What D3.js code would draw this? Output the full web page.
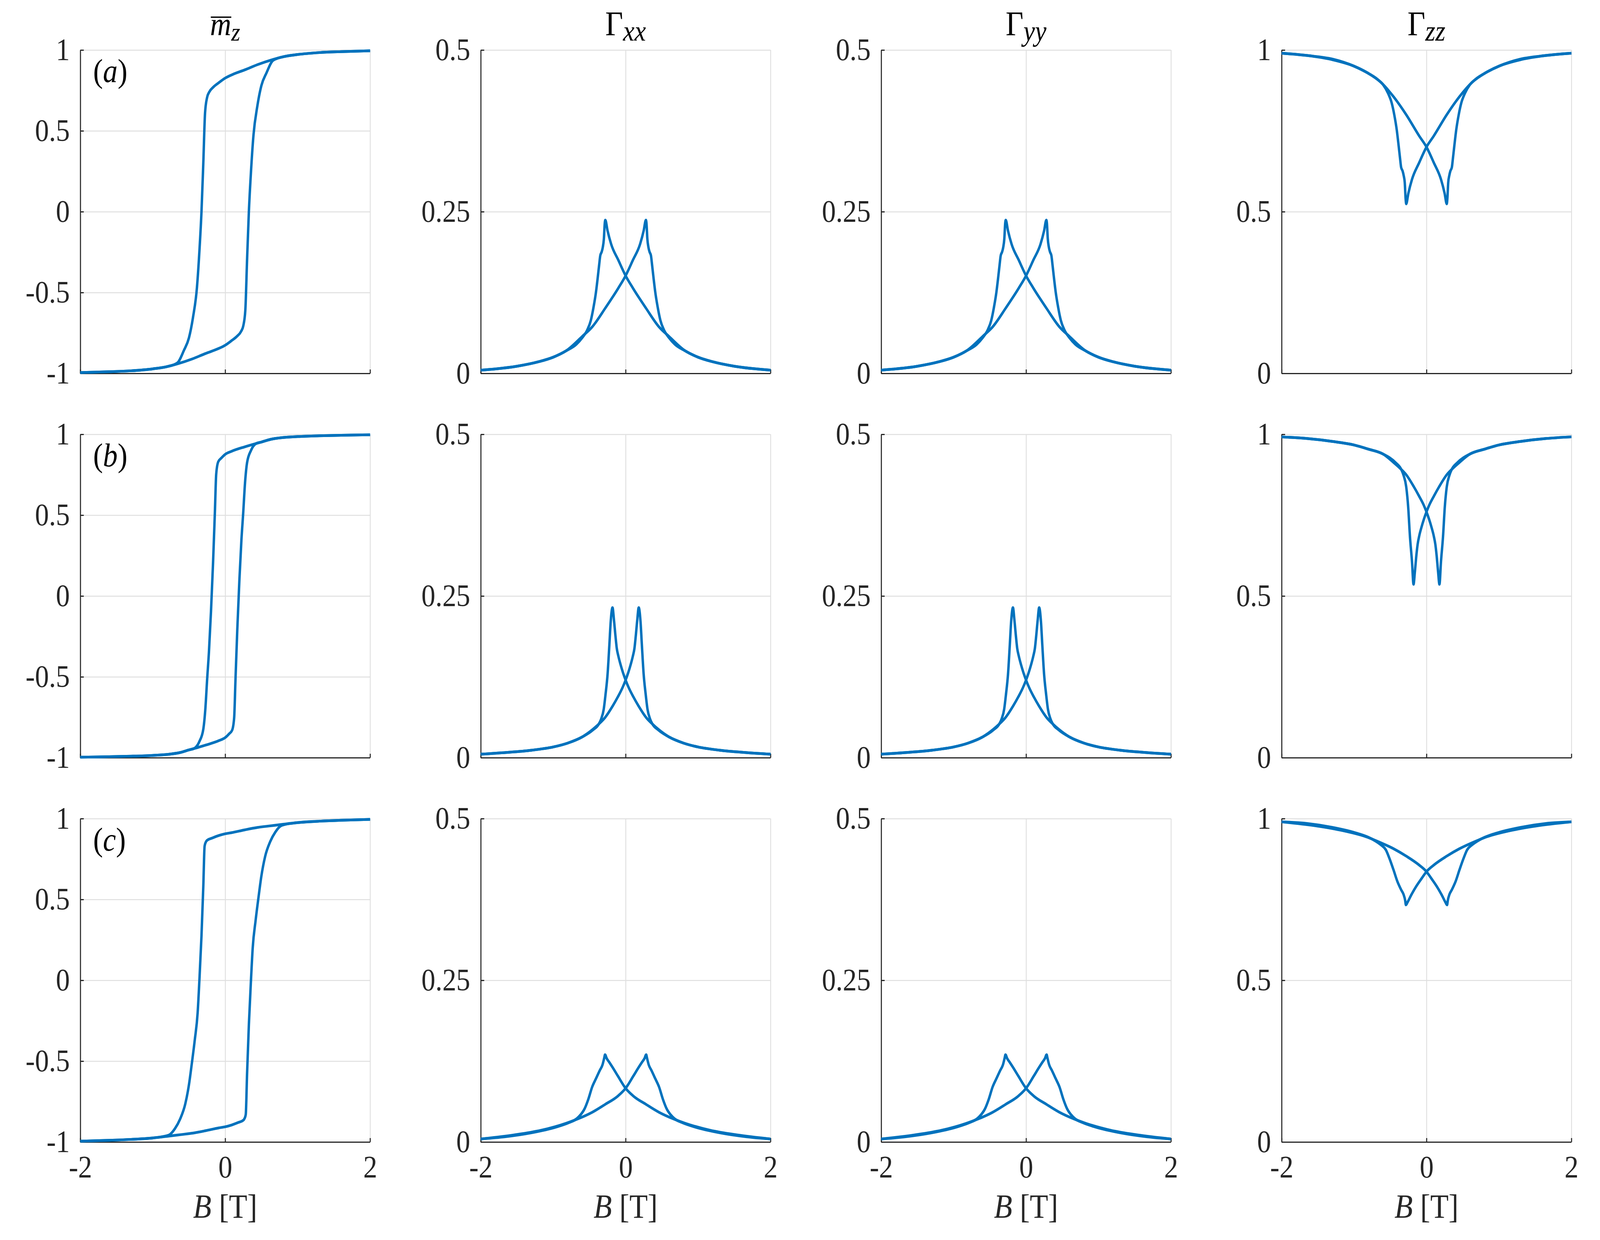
<!DOCTYPE html>
<html>
<head>
<meta charset="utf-8">
<script src="https://cdn.jsdelivr.net/npm/d3@7"></script>
<style>
  html, body { margin: 0; width: 100%; height: 100%; overflow: hidden; background: #ffffff; }
  #chart { width: 100%; height: 100%; }
  svg { display: block; font-family: "Liberation Serif", "DejaVu Serif", serif; }
</style>
</head>
<body>
<div id="chart"></div>
<script>

// ---- data: [B (T), value] pairs ----
// "down" = field swept from +2 to -2, "up" = field swept from -2 to +2

// row (a)
var mzA_down = [[-2,-0.995],[-1.6,-0.99],[-1.3,-0.984],[-1.0,-0.972],[-0.8,-0.958],[-0.66,-0.935],[-0.57,-0.858],[-0.5,-0.78],[-0.445,-0.656],[-0.39,-0.47],[-0.355,-0.238],[-0.327,0],[-0.302,0.3],[-0.278,0.61],[-0.25,0.706],[-0.22,0.74],[-0.16,0.772],[-0.09,0.797],[0,0.826],[0.1,0.848],[0.27,0.877],[0.45,0.91],[0.65,0.94],[0.8,0.958],[1.0,0.972],[1.3,0.984],[1.6,0.99],[2,0.995]];
var mzA_up = [[-2,-0.995],[-1.6,-0.99],[-1.3,-0.984],[-1.0,-0.972],[-0.8,-0.958],[-0.65,-0.94],[-0.45,-0.91],[-0.27,-0.877],[-0.1,-0.848],[0,-0.826],[0.09,-0.797],[0.16,-0.772],[0.22,-0.74],[0.25,-0.706],[0.278,-0.61],[0.302,-0.3],[0.327,0],[0.355,0.238],[0.39,0.47],[0.445,0.656],[0.5,0.78],[0.57,0.858],[0.66,0.935],[0.8,0.958],[1.0,0.972],[1.3,0.984],[1.6,0.99],[2,0.995]];
var gxxA_down = [[-2,0.005],[-1.5,0.011],[-1.2,0.018],[-1.0,0.025],[-0.82,0.035],[-0.68,0.045],[-0.6,0.055],[-0.53,0.067],[-0.48,0.082],[-0.445,0.101],[-0.41,0.125],[-0.385,0.148],[-0.365,0.168],[-0.35,0.182],[-0.33,0.188],[-0.315,0.195],[-0.3,0.208],[-0.288,0.232],[-0.28,0.237],[-0.25,0.221],[-0.2,0.2],[-0.1,0.175],[0,0.151],[0.1,0.132],[0.28,0.101],[0.46,0.072],[0.6,0.057],[0.82,0.035],[1.0,0.025],[1.2,0.018],[1.5,0.011],[2,0.005]];
var gxxA_up = [[-2,0.005],[-1.5,0.011],[-1.2,0.018],[-1.0,0.025],[-0.82,0.035],[-0.6,0.057],[-0.46,0.072],[-0.28,0.101],[-0.1,0.132],[0,0.151],[0.1,0.175],[0.2,0.2],[0.25,0.221],[0.28,0.237],[0.288,0.232],[0.3,0.208],[0.315,0.195],[0.33,0.188],[0.35,0.182],[0.365,0.168],[0.385,0.148],[0.41,0.125],[0.445,0.101],[0.48,0.082],[0.53,0.067],[0.6,0.055],[0.68,0.045],[0.82,0.035],[1.0,0.025],[1.2,0.018],[1.5,0.011],[2,0.005]];
var gzzA_down = [[-2,0.99],[-1.65,0.983],[-1.3,0.972],[-1.0,0.95],[-0.82,0.93],[-0.68,0.91],[-0.6,0.893],[-0.53,0.866],[-0.48,0.836],[-0.445,0.8],[-0.41,0.752],[-0.385,0.705],[-0.365,0.665],[-0.35,0.637],[-0.33,0.626],[-0.315,0.612],[-0.3,0.59],[-0.288,0.54],[-0.28,0.524],[-0.25,0.557],[-0.2,0.6],[-0.1,0.652],[0,0.7],[0.1,0.734],[0.28,0.8],[0.46,0.857],[0.63,0.9],[0.82,0.93],[1.0,0.95],[1.3,0.97],[1.65,0.983],[2,0.99]];
var gzzA_up = [[-2,0.99],[-1.65,0.983],[-1.3,0.97],[-1.0,0.95],[-0.82,0.93],[-0.63,0.9],[-0.46,0.857],[-0.28,0.8],[-0.1,0.734],[0,0.7],[0.1,0.652],[0.2,0.6],[0.25,0.557],[0.28,0.524],[0.288,0.54],[0.3,0.59],[0.315,0.612],[0.33,0.626],[0.35,0.637],[0.365,0.665],[0.385,0.705],[0.41,0.752],[0.445,0.8],[0.48,0.836],[0.53,0.866],[0.6,0.893],[0.68,0.91],[0.82,0.93],[1.0,0.95],[1.3,0.972],[1.65,0.983],[2,0.99]];

// row (b)
var mzB_down = [[-2,-0.997],[-1.6,-0.994],[-1.3,-0.991],[-1.0,-0.986],[-0.8,-0.98],[-0.62,-0.968],[-0.5,-0.952],[-0.427,-0.943],[-0.356,-0.9],[-0.302,-0.824],[-0.274,-0.7],[-0.249,-0.515],[-0.224,-0.345],[-0.196,-0.097],[-0.167,0.21],[-0.142,0.52],[-0.124,0.753],[-0.096,0.83],[-0.053,0.853],[0,0.876],[0.089,0.895],[0.267,0.922],[0.427,0.943],[0.5,0.952],[0.62,0.968],[0.8,0.98],[1.0,0.986],[1.3,0.991],[1.6,0.994],[2,0.997]];
var mzB_up = [[-2,-0.997],[-1.6,-0.994],[-1.3,-0.991],[-1.0,-0.986],[-0.8,-0.98],[-0.62,-0.968],[-0.5,-0.952],[-0.427,-0.943],[-0.267,-0.922],[-0.089,-0.895],[0,-0.876],[0.053,-0.853],[0.096,-0.83],[0.124,-0.753],[0.142,-0.52],[0.167,-0.21],[0.196,0.097],[0.224,0.345],[0.249,0.515],[0.274,0.7],[0.302,0.824],[0.356,0.9],[0.427,0.943],[0.5,0.952],[0.62,0.968],[0.8,0.98],[1.0,0.986],[1.3,0.991],[1.6,0.994],[2,0.997]];
var gxxB_down = [[-2,0.0054],[-1.65,0.008],[-1.3,0.0115],[-1.0,0.0165],[-0.8,0.0225],[-0.6,0.032],[-0.45,0.043],[-0.37,0.052],[-0.337,0.06],[-0.302,0.075],[-0.277,0.098],[-0.249,0.129],[-0.224,0.175],[-0.206,0.21],[-0.181,0.232],[-0.16,0.212],[-0.14,0.188],[-0.122,0.169],[-0.1,0.157],[-0.07,0.144],[-0.035,0.131],[0,0.12],[0.04,0.109],[0.107,0.094],[0.178,0.08],[0.284,0.062],[0.37,0.052],[0.45,0.044],[0.6,0.032],[0.8,0.0225],[1.0,0.0165],[1.3,0.0115],[1.65,0.008],[2,0.0054]];
var gxxB_up = [[-2,0.0054],[-1.65,0.008],[-1.3,0.0115],[-1.0,0.0165],[-0.8,0.0225],[-0.6,0.032],[-0.45,0.044],[-0.37,0.052],[-0.284,0.062],[-0.178,0.08],[-0.107,0.094],[-0.04,0.109],[0,0.12],[0.035,0.131],[0.07,0.144],[0.1,0.157],[0.122,0.169],[0.14,0.188],[0.16,0.212],[0.181,0.232],[0.206,0.21],[0.224,0.175],[0.249,0.129],[0.277,0.098],[0.302,0.075],[0.337,0.06],[0.37,0.052],[0.45,0.043],[0.6,0.032],[0.8,0.0225],[1.0,0.0165],[1.3,0.0115],[1.65,0.008],[2,0.0054]];
var gzzB_down = [[-2,0.992],[-1.65,0.987],[-1.3,0.978],[-1.0,0.967],[-0.8,0.954],[-0.6,0.939],[-0.42,0.911],[-0.35,0.892],[-0.316,0.873],[-0.28,0.838],[-0.253,0.776],[-0.228,0.683],[-0.2,0.606],[-0.179,0.536],[-0.16,0.575],[-0.14,0.625],[-0.122,0.66],[-0.1,0.686],[-0.07,0.712],[-0.035,0.738],[0,0.76],[0.04,0.782],[0.105,0.81],[0.175,0.838],[0.28,0.875],[0.37,0.896],[0.45,0.912],[0.6,0.939],[0.8,0.954],[1.0,0.967],[1.3,0.978],[1.65,0.987],[2,0.992]];
var gzzB_up = [[-2,0.992],[-1.65,0.987],[-1.3,0.978],[-1.0,0.967],[-0.8,0.954],[-0.6,0.939],[-0.45,0.912],[-0.37,0.896],[-0.28,0.875],[-0.175,0.838],[-0.105,0.81],[-0.04,0.782],[0,0.76],[0.035,0.738],[0.07,0.712],[0.1,0.686],[0.122,0.66],[0.14,0.625],[0.16,0.575],[0.179,0.536],[0.2,0.606],[0.228,0.683],[0.253,0.776],[0.28,0.838],[0.316,0.873],[0.35,0.892],[0.42,0.911],[0.6,0.939],[0.8,0.954],[1.0,0.967],[1.3,0.978],[1.65,0.987],[2,0.992]];

// row (c)
var mzC_down = [[-2,-0.995],[-1.6,-0.99],[-1.3,-0.984],[-1.0,-0.975],[-0.78,-0.958],[-0.693,-0.917],[-0.622,-0.858],[-0.551,-0.765],[-0.498,-0.64],[-0.462,-0.52],[-0.42,-0.37],[-0.38,-0.2],[-0.356,0],[-0.327,0.275],[-0.302,0.58],[-0.284,0.83],[-0.267,0.855],[-0.249,0.866],[-0.178,0.88],[-0.089,0.895],[0,0.906],[0.089,0.913],[0.267,0.93],[0.444,0.945],[0.62,0.955],[0.8,0.965],[1.0,0.975],[1.3,0.984],[1.6,0.99],[2,0.995]];
var mzC_up = [[-2,-0.995],[-1.6,-0.99],[-1.3,-0.984],[-1.0,-0.975],[-0.8,-0.965],[-0.62,-0.955],[-0.444,-0.945],[-0.267,-0.93],[-0.089,-0.913],[0,-0.906],[0.089,-0.895],[0.178,-0.88],[0.249,-0.866],[0.267,-0.855],[0.284,-0.83],[0.302,-0.58],[0.327,-0.275],[0.356,0],[0.38,0.2],[0.42,0.37],[0.462,0.52],[0.498,0.64],[0.551,0.765],[0.622,0.858],[0.693,0.917],[0.78,0.958],[1.0,0.975],[1.3,0.984],[1.6,0.99],[2,0.995]];
var gxxC_down = [[-2,0.0046],[-1.67,0.008],[-1.31,0.014],[-0.96,0.023],[-0.78,0.03],[-0.675,0.036],[-0.622,0.042],[-0.568,0.051],[-0.515,0.066],[-0.462,0.085],[-0.409,0.098],[-0.355,0.111],[-0.32,0.119],[-0.295,0.13],[-0.284,0.135],[-0.26,0.129],[-0.23,0.124],[-0.178,0.115],[-0.107,0.102],[0,0.083],[0.107,0.071],[0.284,0.058],[0.46,0.046],[0.675,0.035],[0.82,0.029],[1.17,0.018],[1.53,0.011],[2,0.0046]];
var gxxC_up = [[-2,0.0046],[-1.53,0.011],[-1.17,0.018],[-0.82,0.029],[-0.675,0.035],[-0.46,0.046],[-0.284,0.058],[-0.107,0.071],[0,0.083],[0.107,0.102],[0.178,0.115],[0.23,0.124],[0.26,0.129],[0.284,0.135],[0.295,0.13],[0.32,0.119],[0.355,0.111],[0.409,0.098],[0.462,0.085],[0.515,0.066],[0.568,0.051],[0.622,0.042],[0.675,0.036],[0.78,0.03],[0.96,0.023],[1.31,0.014],[1.67,0.008],[2,0.0046]];
var gzzC_down = [[-2,0.99],[-1.65,0.985],[-1.3,0.973],[-0.95,0.954],[-0.8,0.942],[-0.7,0.93],[-0.63,0.919],[-0.56,0.903],[-0.51,0.876],[-0.456,0.842],[-0.404,0.807],[-0.35,0.78],[-0.316,0.765],[-0.295,0.748],[-0.284,0.733],[-0.26,0.742],[-0.21,0.764],[-0.14,0.791],[-0.07,0.814],[0,0.836],[0.105,0.857],[0.28,0.884],[0.456,0.907],[0.7,0.932],[0.81,0.942],[1.16,0.963],[1.51,0.977],[2,0.99]];
var gzzC_up = [[-2,0.99],[-1.51,0.977],[-1.16,0.963],[-0.81,0.942],[-0.7,0.932],[-0.456,0.907],[-0.28,0.884],[-0.105,0.857],[0,0.836],[0.07,0.814],[0.14,0.791],[0.21,0.764],[0.26,0.742],[0.284,0.733],[0.295,0.748],[0.316,0.765],[0.35,0.78],[0.404,0.807],[0.456,0.842],[0.51,0.876],[0.56,0.903],[0.63,0.919],[0.7,0.93],[0.8,0.942],[0.95,0.954],[1.3,0.973],[1.65,0.985],[2,0.99]];

// ticks
var bTicks = [-2, 0, 2];
var bTickLabels = ["-2", "0", "2"];
var mzTicks = [-1, -0.5, 0, 0.5, 1];
var mzTickLabels = ["-1", "-0.5", "0", "0.5", "1"];
var gxxTicks = [0, 0.25, 0.5];
var gxxTickLabels = ["0", "0.25", "0.5"];
var gzzTicks = [0, 0.5, 1];
var gzzTickLabels = ["0", "0.5", "1"];

var panelLabels = ["a", "b", "c"];

// ---- layout (in the 4583 x 3175 figure frame) ----
var svgWidth = 4583;
var svgHeight = 3175;

var colLeft = [230, 1377, 2524, 3671];
var rowTop = [128, 1112, 2096];
var plotWidth = 830;
var plotHeight = 828;

var lineColor = "#0072bd";
var axisColor = "#262626";
var gridColor = "#dfdfdf";

// one entry per column; Gamma_yy coincides with Gamma_xx in every row
var columns = [
  {name: "mz",  domain: [-1, 1],  ticks: mzTicks,  labels: mzTickLabels,
   data: [[mzA_down, mzA_up], [mzB_down, mzB_up], [mzC_down, mzC_up]]},
  {name: "xx",  domain: [0, 0.5], ticks: gxxTicks, labels: gxxTickLabels,
   data: [[gxxA_down, gxxA_up], [gxxB_down, gxxB_up], [gxxC_down, gxxC_up]]},
  {name: "yy",  domain: [0, 0.5], ticks: gxxTicks, labels: gxxTickLabels,
   data: [[gxxA_down, gxxA_up], [gxxB_down, gxxB_up], [gxxC_down, gxxC_up]]},
  {name: "zz",  domain: [0, 1],   ticks: gzzTicks, labels: gzzTickLabels,
   data: [[gzzA_down, gzzA_up], [gzzB_down, gzzB_up], [gzzC_down, gzzC_up]]}
];

// the figure frame is stretched over the whole window
var svg = d3.select("#chart")
  .append("svg")
  .attr("width", "100%")
  .attr("height", "100%")
  .attr("viewBox", `0 0 ${svgWidth} ${svgHeight}`)
  .attr("preserveAspectRatio", "none");

svg.append("rect")
  .attr("width", svgWidth)
  .attr("height", svgHeight)
  .attr("fill", "#ffffff");

var xScale = d3.scaleLinear().domain([-2, 2]).range([0, plotWidth]);

function styleTickText(g) {
  g.attr("font-family", null).attr("font-size", null);
  g.selectAll("text")
    .attr("font-size", 80)
    .attr("fill", axisColor);
}

columns.forEach(function(col, ci) {
  var yScale = d3.scaleLinear().domain(col.domain).range([plotHeight, 0]);

  var line = d3.line()
    .x(d => xScale(d[0]))
    .y(d => yScale(d[1]))
    .curve(d3.curveMonotoneX);

  rowTop.forEach(function(top, ri) {
    var chartGroup = svg.append("g")
      .attr("transform", `translate(${colLeft[ci]}, ${top})`);

    // grid
    chartGroup.append("g")
      .attr("class", "grid")
      .call(d3.axisLeft(yScale).tickValues(col.ticks).tickSize(-plotWidth).tickFormat(""))
      .call(g => g.select(".domain").remove())
      .call(g => g.selectAll("line").attr("stroke", gridColor).attr("stroke-width", 2.5));

    chartGroup.append("g")
      .attr("class", "grid")
      .attr("transform", `translate(0, ${plotHeight})`)
      .call(d3.axisBottom(xScale).tickValues(bTicks).tickSize(-plotHeight).tickFormat(""))
      .call(g => g.select(".domain").remove())
      .call(g => g.selectAll("line").attr("stroke", gridColor).attr("stroke-width", 2.5));

    // y axis, ticks pointing inward
    var leftAxis = d3.axisLeft(yScale)
      .tickValues(col.ticks)
      .tickFormat((d, i) => col.labels[i])
      .tickSizeInner(-10)
      .tickSizeOuter(0)
      .tickPadding(30);

    chartGroup.append("g")
      .call(leftAxis)
      .call(styleTickText)
      .call(g => g.selectAll("line, path").attr("stroke", axisColor).attr("stroke-width", 3));

    // x axis, labels only on the bottom row
    var bottomAxis = d3.axisBottom(xScale)
      .tickValues(bTicks)
      .tickFormat((d, i) => ri === rowTop.length - 1 ? bTickLabels[i] : "")
      .tickSizeInner(-10)
      .tickSizeOuter(0)
      .tickPadding(34);

    chartGroup.append("g")
      .attr("transform", `translate(0, ${plotHeight})`)
      .call(bottomAxis)
      .call(styleTickText)
      .call(g => g.selectAll("line, path").attr("stroke", axisColor).attr("stroke-width", 3));

    // the two sweep branches
    chartGroup.selectAll(".branch")
      .data(col.data[ri])
      .enter()
      .append("path")
      .attr("class", "branch")
      .attr("d", line)
      .attr("fill", "none")
      .attr("stroke", lineColor)
      .attr("stroke-width", 7)
      .attr("stroke-linejoin", "round");

    // panel label (a), (b), (c)
    if (ci === 0) {
      var lab = chartGroup.append("text")
        .attr("x", 37)
        .attr("y", 82)
        .attr("font-size", 84)
        .attr("fill", "#000000");
      lab.append("tspan").text("(");
      lab.append("tspan").attr("font-style", "italic").text(panelLabels[ri]);
      lab.append("tspan").text(")");
    }

    // x axis label on the bottom row
    if (ri === rowTop.length - 1) {
      var xl = chartGroup.append("text")
        .attr("x", plotWidth / 2)
        .attr("y", plotHeight + 194)
        .attr("text-anchor", "middle")
        .attr("font-size", 86)
        .attr("fill", axisColor);
      xl.append("tspan").attr("font-style", "italic").text("B");
      xl.append("tspan").text(" [T]");
    }
  });

  // column title
  var cx = colLeft[ci] + plotWidth / 2;
  var title = svg.append("text")
    .attr("x", cx)
    .attr("y", 90)
    .attr("text-anchor", "middle")
    .attr("fill", "#000000");

  if (col.name === "mz") {
    title.append("tspan").attr("font-style", "italic").attr("font-size", 84).text("m");
    title.append("tspan").attr("font-style", "italic").attr("font-size", 66).attr("dy", 14).text("z");
    // overline over the m
    var ext = title.node().getExtentOfChar(0);
    svg.append("line")
      .attr("x1", ext.x + 2)
      .attr("x2", ext.x + ext.width)
      .attr("y1", 44)
      .attr("y2", 44)
      .attr("stroke", "#000000")
      .attr("stroke-width", 3.5);
  } else {
    title.append("tspan").attr("font-size", 88).text("\u0393");
    title.append("tspan").attr("font-style", "italic").attr("font-size", 74).attr("dy", 14).text(col.name);
  }
});

</script>
</body>
</html>
